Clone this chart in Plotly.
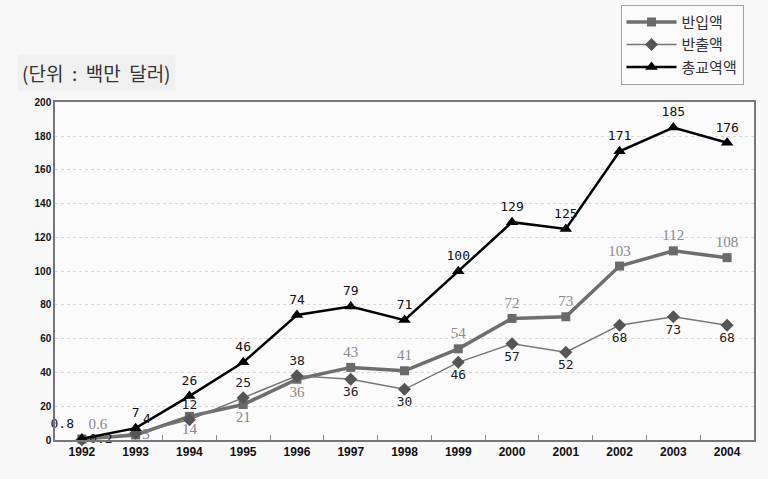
import plotly.graph_objects as go

years = ["1992", "1993", "1994", "1995", "1996", "1997", "1998", "1999", "2000", "2001", "2002", "2003", "2004"]
imports = [0.6, 3, 14, 21, 36, 43, 41, 54, 72, 73, 103, 112, 108]
exports = [0.2, 4, 12, 25, 38, 36, 30, 46, 57, 52, 68, 73, 68]
totals = [0.8, 7, 26, 46, 74, 79, 71, 100, 129, 125, 171, 185, 176]
import_labels = ["0.6", "3", "14", "21", "36", "43", "41", "54", "72", "73", "103", "112", "108"]
export_labels = ["0.2", "4", "12", "25", "38", "36", "30", "46", "57", "52", "68", "73", "68"]
total_labels = ["0.8", "7", "26", "46", "74", "79", "71", "100", "129", "125", "171", "185", "176"]

imp_pos = ["top right", "middle right", "bottom center", "bottom center", "bottom center"] + ["top center"] * 8
exp_pos = ["middle right", "top right", "top center", "top center", "top center"] + ["bottom center"] * 8
tot_pos = ["top left"] + ["top center"] * 12

fig = go.Figure()
fig.add_trace(go.Scatter(
    x=years, y=imports, name="반입액", mode="lines+markers+text", cliponaxis=False,
    line=dict(color="#6e6e6e", width=3.5),
    marker=dict(symbol="square", size=9, color="#6a6a6a"),
    text=import_labels, textposition=imp_pos,
    textfont=dict(family="Liberation Serif", size=15, color="#8a8a8a"),
))
fig.add_trace(go.Scatter(
    x=years, y=exports, name="반출액", mode="lines+markers+text", cliponaxis=False,
    line=dict(color="#777777", width=1.5),
    marker=dict(symbol="diamond", size=10, color="#555555"),
    text=export_labels, textposition=exp_pos,
    textfont=dict(family="DejaVu Sans Mono", size=13, color="#222222"),
))
fig.add_trace(go.Scatter(
    x=years, y=totals, name="총교역액", mode="lines+markers+text", cliponaxis=False,
    line=dict(color="#000000", width=2.5),
    marker=dict(symbol="triangle-up", size=11, color="#000000"),
    text=total_labels, textposition=tot_pos,
    textfont=dict(family="DejaVu Sans Mono", size=13, color="#111111"),
))

fig.update_layout(
    width=768, height=479,
    margin=dict(l=55, r=12, t=98, b=39),
    paper_bgcolor="#f8f8f8", plot_bgcolor="#fbfbfb",
    font=dict(family="Noto Sans CJK KR", color="#222222"),
    showlegend=True,
    legend=dict(
        x=0.985, y=0.99, xref="paper", yref="container", xanchor="right", yanchor="top",
        bordercolor="#a0a0a0", borderwidth=1, bgcolor="#fafafa",
        font=dict(family="Noto Sans CJK KR", size=15, color="#333333"),
        tracegroupgap=0, itemwidth=50,
    ),
    annotations=[dict(
        text="(단위  :  백만  달러)", xref="paper", yref="paper", x=-0.055, y=1.088,
        xanchor="left", yanchor="middle", showarrow=False,
        font=dict(family="Noto Sans CJK KR", size=19, color="#333333"),
        bgcolor="#f0f0f0", borderpad=4,
    )],
)
fig.update_xaxes(
    type="category", range=[-0.5, 12.5], showgrid=False, ticks="inside", tickson="boundaries", ticklen=5,
    tickcolor="#888888", showline=True, linecolor="#777777", linewidth=1.5, mirror=True,
    tickfont=dict(family="Liberation Sans", size=12, color="#111111", weight="bold"),
)
fig.update_yaxes(
    range=[0, 200], dtick=20, showgrid=True, gridcolor="#d8d8d8", griddash="dot",
    showline=True, linecolor="#777777", linewidth=1.5, mirror=True, ticks="",
    zeroline=False,
    tickfont=dict(family="Liberation Sans", size=10, color="#111111", weight="bold"),
)

fig.write_html("out.html")
